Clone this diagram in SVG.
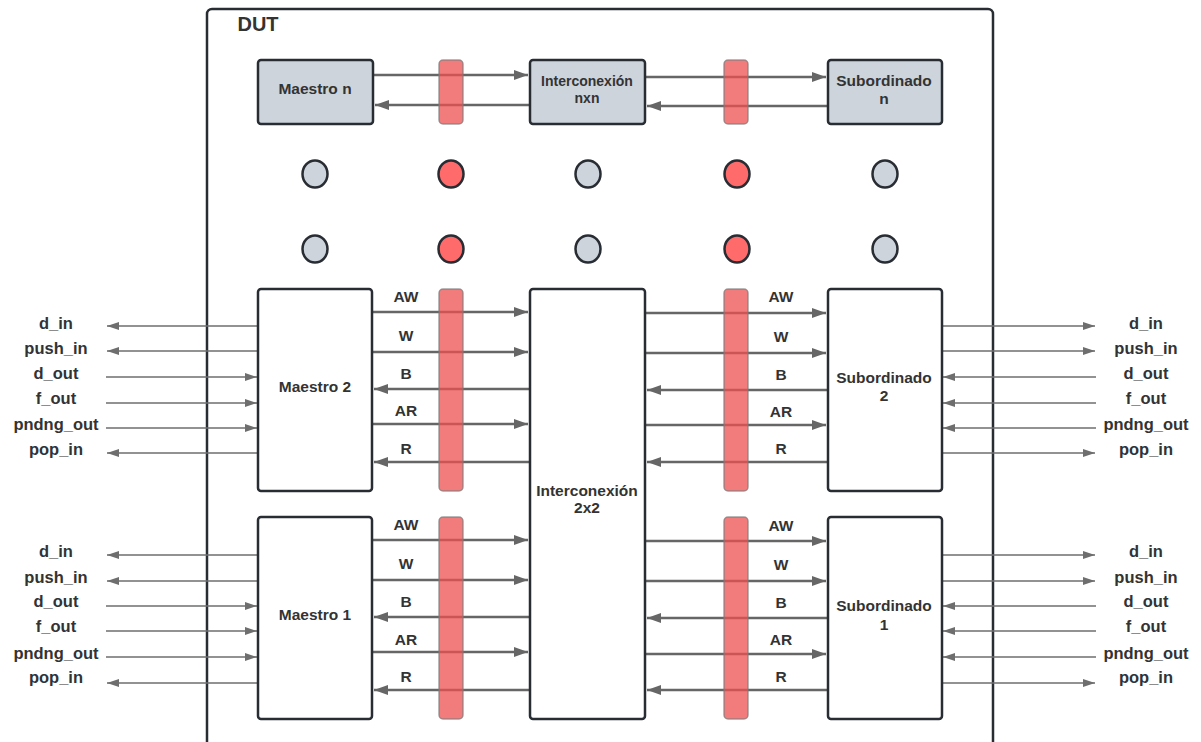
<svg xmlns="http://www.w3.org/2000/svg" width="1201" height="742" viewBox="0 0 1201 742">
<defs>
<style>
.box{fill:#fff;stroke:#282c33;stroke-width:2.5}
.gbox{fill:#ced4dc;stroke:#282c33;stroke-width:2.5}
.bar{fill:#ee5050;fill-opacity:0.75;stroke:#7a7a7a;stroke-opacity:0.7;stroke-width:1.5}
.c{fill:#ced4dc;stroke:#282c33;stroke-width:2.5}
.cr{fill:#ff6b6b;stroke:#282c33;stroke-width:2.5}
.w{stroke:#666;stroke-width:2.5;fill:none}
.e{stroke:#6e6e6e;stroke-width:1.5;fill:none}
.r{marker-end:url(#ah)}
.er{marker-end:url(#eh)}
text{font-family:"Liberation Sans",Arial,sans-serif;font-weight:bold;fill:#333;text-anchor:middle;dominant-baseline:middle}
.n{font-size:15.5px}
.t{font-size:14px}
.l{font-size:15.5px}
.x{font-size:16.5px}
</style>
<marker id="ah" viewBox="0 0 14 10" refX="14" refY="5" markerWidth="14" markerHeight="10" markerUnits="userSpaceOnUse" orient="auto"><path d="M0,0 L14,5 L0,10 Z" fill="#666"/></marker>
<marker id="eh" viewBox="0 0 12 8" refX="12" refY="4" markerWidth="12" markerHeight="8" markerUnits="userSpaceOnUse" orient="auto"><path d="M0,0 L12,4 L0,8 Z" fill="#6e6e6e"/></marker>
</defs>
<rect width="1201" height="742" fill="#fff"/>
<g id="dut"><rect x="207" y="9" width="786" height="760" rx="5" class="box"/><text x="258" y="26" style="font-size:20px">DUT</text></g>

<g id="connectors">
<line x1="373" y1="75" x2="528" y2="75" class="w r"/>
<line x1="530" y1="105" x2="375" y2="105" class="w r"/>
<line x1="645" y1="77" x2="826" y2="77" class="w r"/>
<line x1="828" y1="106" x2="647" y2="106" class="w r"/>
<line x1="372" y1="312" x2="528" y2="312" class="w r"/>
<line x1="372" y1="352" x2="528" y2="352" class="w r"/>
<line x1="530" y1="389" x2="374" y2="389" class="w r"/>
<line x1="372" y1="424" x2="528" y2="424" class="w r"/>
<line x1="530" y1="462" x2="374" y2="462" class="w r"/>
<line x1="645" y1="313" x2="826" y2="313" class="w r"/>
<line x1="645" y1="353" x2="826" y2="353" class="w r"/>
<line x1="828" y1="390" x2="647" y2="390" class="w r"/>
<line x1="645" y1="425" x2="826" y2="425" class="w r"/>
<line x1="828" y1="462" x2="647" y2="462" class="w r"/>
<line x1="372" y1="540" x2="528" y2="540" class="w r"/>
<line x1="372" y1="580" x2="528" y2="580" class="w r"/>
<line x1="530" y1="617" x2="374" y2="617" class="w r"/>
<line x1="372" y1="652" x2="528" y2="652" class="w r"/>
<line x1="530" y1="690" x2="374" y2="690" class="w r"/>
<line x1="645" y1="541" x2="826" y2="541" class="w r"/>
<line x1="645" y1="581" x2="826" y2="581" class="w r"/>
<line x1="828" y1="618" x2="647" y2="618" class="w r"/>
<line x1="645" y1="654" x2="826" y2="654" class="w r"/>
<line x1="828" y1="690" x2="647" y2="690" class="w r"/>
<line x1="258" y1="326" x2="107" y2="326" class="e er"/>
<line x1="258" y1="351" x2="107" y2="351" class="e er"/>
<line x1="106" y1="377" x2="257" y2="377" class="e er"/>
<line x1="106" y1="403" x2="257" y2="403" class="e er"/>
<line x1="106" y1="428" x2="257" y2="428" class="e er"/>
<line x1="258" y1="453" x2="107" y2="453" class="e er"/>
<line x1="258" y1="555" x2="107" y2="555" class="e er"/>
<line x1="258" y1="581" x2="107" y2="581" class="e er"/>
<line x1="106" y1="606" x2="257" y2="606" class="e er"/>
<line x1="106" y1="631" x2="257" y2="631" class="e er"/>
<line x1="106" y1="657" x2="257" y2="657" class="e er"/>
<line x1="258" y1="683" x2="107" y2="683" class="e er"/>
<line x1="942" y1="326" x2="1095" y2="326" class="e er"/>
<line x1="942" y1="351" x2="1095" y2="351" class="e er"/>
<line x1="1096" y1="377" x2="943" y2="377" class="e er"/>
<line x1="1096" y1="403" x2="943" y2="403" class="e er"/>
<line x1="1096" y1="428" x2="943" y2="428" class="e er"/>
<line x1="942" y1="453" x2="1095" y2="453" class="e er"/>
<line x1="942" y1="555" x2="1095" y2="555" class="e er"/>
<line x1="942" y1="581" x2="1095" y2="581" class="e er"/>
<line x1="1096" y1="606" x2="943" y2="606" class="e er"/>
<line x1="1096" y1="631" x2="943" y2="631" class="e er"/>
<line x1="1096" y1="657" x2="943" y2="657" class="e er"/>
<line x1="942" y1="683" x2="1095" y2="683" class="e er"/>
</g>

<g id="bars">
<rect x="439" y="60" width="24" height="64" rx="4" class="bar"/>
<rect x="724" y="60" width="24" height="64" rx="4" class="bar"/>
<rect x="439" y="289" width="24" height="202" rx="4" class="bar"/>
<rect x="724" y="289" width="24" height="202" rx="4" class="bar"/>
<rect x="439" y="517" width="24" height="202" rx="4" class="bar"/>
<rect x="724" y="517" width="24" height="202" rx="4" class="bar"/>
</g>

<g id="maestro-n"><rect x="258" y="60" width="115" height="64" rx="3" class="gbox"/><text x="315" y="90" class="n">Maestro n</text></g>
<g id="interconexion-nxn"><rect x="530" y="60" width="115" height="64" rx="3" class="gbox"/><text x="587" y="82" class="t">Interconexión</text><text x="587" y="99" class="t">nxn</text></g>
<g id="subordinado-n"><rect x="828" y="60" width="114" height="64" rx="3" class="gbox"/><text x="884" y="82" class="n">Subordinado</text><text x="884" y="100" class="n">n</text></g>

<g id="dots">
<ellipse cx="315" cy="174" rx="12.5" ry="13.5" class="c"/>
<ellipse cx="451" cy="174" rx="12.5" ry="13.5" class="cr"/>
<ellipse cx="588" cy="174" rx="12.5" ry="13.5" class="c"/>
<ellipse cx="737" cy="174" rx="12.5" ry="13.5" class="cr"/>
<ellipse cx="885" cy="174" rx="12.5" ry="13.5" class="c"/>
<ellipse cx="315" cy="249" rx="12.5" ry="13.5" class="c"/>
<ellipse cx="451" cy="249" rx="12.5" ry="13.5" class="cr"/>
<ellipse cx="588" cy="249" rx="12.5" ry="13.5" class="c"/>
<ellipse cx="737" cy="249" rx="12.5" ry="13.5" class="cr"/>
<ellipse cx="885" cy="249" rx="12.5" ry="13.5" class="c"/>
</g>

<g id="maestro-2"><rect x="258" y="289" width="114" height="202" rx="3" class="box"/><text x="315" y="388" class="n">Maestro 2</text></g>
<g id="maestro-1"><rect x="258" y="517" width="114" height="202" rx="3" class="box"/><text x="315" y="616" class="n">Maestro 1</text></g>
<g id="interconexion-2x2"><rect x="530" y="289" width="115" height="430" rx="3" class="box"/><text x="587" y="492" class="n">Interconexión</text><text x="587" y="509" class="n">2x2</text></g>
<g id="subordinado-2"><rect x="828" y="289" width="114" height="202" rx="3" class="box"/><text x="884" y="379" class="n">Subordinado</text><text x="884" y="397" class="n">2</text></g>
<g id="subordinado-1"><rect x="828" y="517" width="114" height="202" rx="3" class="box"/><text x="884" y="607" class="n">Subordinado</text><text x="884" y="626" class="n">1</text></g>

<g id="signal-labels">
<text x="406" y="298" class="l">AW</text><text x="406" y="337" class="l">W</text><text x="406" y="375" class="l">B</text><text x="406" y="412" class="l">AR</text><text x="406" y="450" class="l">R</text>
<text x="781" y="298" class="l">AW</text><text x="781" y="338" class="l">W</text><text x="781" y="376" class="l">B</text><text x="781" y="413" class="l">AR</text><text x="781" y="450" class="l">R</text>
<text x="406" y="526" class="l">AW</text><text x="406" y="565" class="l">W</text><text x="406" y="603" class="l">B</text><text x="406" y="641" class="l">AR</text><text x="406" y="678" class="l">R</text>
<text x="781" y="527" class="l">AW</text><text x="781" y="566" class="l">W</text><text x="781" y="604" class="l">B</text><text x="781" y="641" class="l">AR</text><text x="781" y="678" class="l">R</text>
</g>

<g id="ext-labels">
<text x="56" y="325" class="x">d_in</text><text x="56" y="350" class="x">push_in</text><text x="56" y="375" class="x">d_out</text><text x="56" y="400" class="x">f_out</text><text x="56" y="426" class="x">pndng_out</text><text x="56" y="451" class="x">pop_in</text>
<text x="56" y="553" class="x">d_in</text><text x="56" y="579" class="x">push_in</text><text x="56" y="603" class="x">d_out</text><text x="56" y="628" class="x">f_out</text><text x="56" y="655" class="x">pndng_out</text><text x="56" y="679" class="x">pop_in</text>
<text x="1146" y="325" class="x">d_in</text><text x="1146" y="350" class="x">push_in</text><text x="1146" y="375" class="x">d_out</text><text x="1146" y="400" class="x">f_out</text><text x="1146" y="426" class="x">pndng_out</text><text x="1146" y="451" class="x">pop_in</text>
<text x="1146" y="553" class="x">d_in</text><text x="1146" y="579" class="x">push_in</text><text x="1146" y="603" class="x">d_out</text><text x="1146" y="628" class="x">f_out</text><text x="1146" y="655" class="x">pndng_out</text><text x="1146" y="679" class="x">pop_in</text>
</g>
</svg>
